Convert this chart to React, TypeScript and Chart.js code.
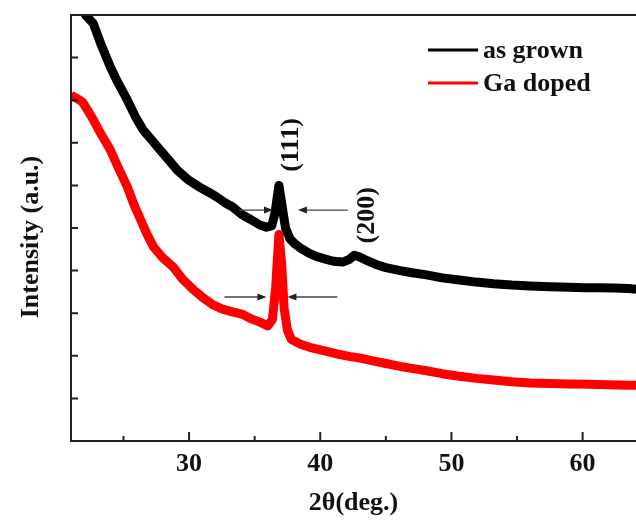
import { useEffect, useRef } from "react";
import { Chart, registerables } from "chart.js";

Chart.register(...registerables);

const FONT = '"Liberation Serif", "Times New Roman", serif';

const seriesLabels = ["as grown", "Ga doped"];
const seriesColors = ["#000000", "#ff0000"];

const asGrownX = [21.0, 21.6, 22.1, 22.7, 23.3, 24.0, 24.6, 25.3, 25.9, 26.5, 27.2, 27.8, 28.5, 29.1, 29.9, 30.8, 31.5, 32.1, 32.7, 33.3, 34.0, 34.7, 35.4, 35.9, 36.3, 36.55, 36.85, 37.1, 37.35, 37.7, 38.1, 38.5, 39.2, 39.8, 40.4, 41.0, 41.7, 42.2, 42.6, 43.0, 43.4, 44.2, 45.0, 46.1, 47.0, 48.1, 49.3, 50.6, 51.9, 53.2, 54.6, 56.0, 57.5, 59.0, 60.2, 61.3, 62.4, 63.5, 64.1];
const asGrownY = [11.2, 10.6, 10.0, 9.8, 9.3, 8.78, 8.4, 8.0, 7.62, 7.3, 7.05, 6.83, 6.58, 6.36, 6.14, 5.96, 5.84, 5.73, 5.6, 5.5, 5.32, 5.2, 5.07, 5.02, 5.05, 5.35, 6.0, 5.5, 5.0, 4.74, 4.62, 4.53, 4.4, 4.32, 4.27, 4.22, 4.2, 4.26, 4.36, 4.32, 4.26, 4.15, 4.07, 4.0, 3.95, 3.9, 3.83, 3.78, 3.73, 3.69, 3.66, 3.64, 3.62, 3.61, 3.6, 3.6, 3.59, 3.58, 3.56];

const gaDopedX = [21.0, 21.4, 21.9, 22.3, 22.7, 23.3, 24.0, 24.6, 25.3, 25.8, 26.3, 26.8, 27.3, 28.0, 28.8, 29.5, 30.3, 31.0, 31.8, 32.5, 33.3, 34.1, 34.8, 35.4, 36.0, 36.35, 36.6, 36.85, 37.05, 37.25, 37.5, 37.8, 38.5, 39.2, 40.0, 40.8, 41.5, 42.3, 43.0, 44.0, 45.0, 46.1, 47.1, 48.1, 49.3, 50.6, 51.9, 53.2, 54.6, 56.0, 57.5, 59.0, 60.5, 62.0, 63.5, 64.1];
const gaDopedY = [8.12, 8.05, 7.95, 7.75, 7.54, 7.2, 6.83, 6.42, 5.96, 5.55, 5.2, 4.85, 4.55, 4.3, 4.08, 3.8, 3.56, 3.38, 3.2, 3.1, 3.03, 2.97, 2.86, 2.79, 2.7, 2.85, 3.6, 4.85, 4.2, 3.1, 2.6, 2.38, 2.27, 2.2, 2.14, 2.08, 2.03, 1.98, 1.95, 1.88, 1.82, 1.75, 1.7, 1.65, 1.58, 1.52, 1.47, 1.43, 1.39, 1.36, 1.35, 1.34, 1.33, 1.32, 1.31, 1.31];

const xMin = 21;
const xMax = 64.07;
const yMin = 0;
const yMax = 10;

const peakLabels = ["(111)", "(200)"];
const peakLabelX = [37.8, 43.6];
const peakLabelY = [6.95, 5.3];

const arrowFromX = [33.8, 42.1, 32.7, 41.3];
const arrowToX = [36.4, 38.3, 35.9, 37.5];
const arrowY = [5.42, 5.42, 3.38, 3.38];

const xTitle = "2θ(deg.)";
const yTitle = "Intensity (a.u.)";

const decorPlugin = {
  id: "decor",
  afterDraw(chart: any) {
    const { ctx, chartArea, scales } = chart;
    const xs = scales.x;
    const ys = scales.y;
    const { left, right, top, bottom } = chartArea;
    ctx.save();

    // frame (left, bottom, top)
    ctx.strokeStyle = "#222";
    ctx.lineWidth = 2;
    ctx.beginPath();
    ctx.moveTo(right + 2, top);
    ctx.lineTo(left, top);
    ctx.lineTo(left, bottom);
    ctx.lineTo(right + 2, bottom);
    ctx.stroke();

    // inward ticks
    ctx.lineWidth = 2;
    ctx.beginPath();
    xs.ticks.forEach((t: any) => {
      const px = xs.getPixelForValue(t.value);
      const len = t.value % 10 === 0 ? 9 : 5;
      ctx.moveTo(px, bottom);
      ctx.lineTo(px, bottom - len);
    });
    ys.ticks.forEach((t: any) => {
      if (t.value <= yMin || t.value >= yMax) return;
      const py = ys.getPixelForValue(t.value);
      ctx.moveTo(left, py);
      ctx.lineTo(left + 7, py);
    });
    ctx.stroke();

    // arrows
    ctx.strokeStyle = "#444";
    ctx.fillStyle = "#222";
    ctx.lineWidth = 1.3;
    for (let i = 0; i < arrowY.length; i++) {
      const x1 = xs.getPixelForValue(arrowFromX[i]);
      const x2 = xs.getPixelForValue(arrowToX[i]);
      const py = ys.getPixelForValue(arrowY[i]);
      const dir = x2 > x1 ? 1 : -1;
      ctx.beginPath();
      ctx.moveTo(x1, py);
      ctx.lineTo(x2 - dir * 6, py);
      ctx.stroke();
      ctx.beginPath();
      ctx.moveTo(x2, py);
      ctx.lineTo(x2 - dir * 9, py - 3.5);
      ctx.lineTo(x2 - dir * 9, py + 3.5);
      ctx.closePath();
      ctx.fill();
    }

    // peak labels (rotated)
    ctx.fillStyle = "#111";
    ctx.font = `bold 26px ${FONT}`;
    ctx.textAlign = "center";
    ctx.textBaseline = "middle";
    for (let i = 0; i < peakLabels.length; i++) {
      const px = xs.getPixelForValue(peakLabelX[i]);
      const py = ys.getPixelForValue(peakLabelY[i]);
      ctx.save();
      ctx.translate(px, py);
      ctx.rotate(-Math.PI / 2);
      ctx.fillText(peakLabels[i], 0, 0);
      ctx.restore();
    }

    // y title
    ctx.save();
    ctx.translate(31, 237);
    ctx.rotate(-Math.PI / 2);
    ctx.fillText(yTitle, 0, 0);
    ctx.restore();

    // legend
    const ds = chart.data.datasets;
    const legX1 = 428;
    const legX2 = 478;
    const legLineY = [50, 83];
    const legTextY = [58, 91];
    ctx.textAlign = "left";
    ctx.textBaseline = "alphabetic";
    ds.forEach((d: any, i: number) => {
      ctx.strokeStyle = d.borderColor;
      ctx.lineWidth = 3;
      ctx.beginPath();
      ctx.moveTo(legX1, legLineY[i]);
      ctx.lineTo(legX2, legLineY[i]);
      ctx.stroke();
      ctx.fillStyle = "#111";
      ctx.fillText(d.label, 483, legTextY[i]);
    });

    ctx.restore();
  },
};

export default function App() {
  const ref = useRef<HTMLCanvasElement | null>(null);
  useEffect(() => {
    if (!ref.current) return;
    const chart = new Chart(ref.current, {
      type: "scatter",
      data: {
        datasets: [
          {
            label: seriesLabels[0],
            data: asGrownX.map((x, i) => ({ x, y: asGrownY[i] })),
            borderColor: seriesColors[0],
            backgroundColor: seriesColors[0],
            showLine: true,
            pointRadius: 0,
            borderWidth: 9,
            borderJoinStyle: "round",
          },
          {
            label: seriesLabels[1],
            data: gaDopedX.map((x, i) => ({ x, y: gaDopedY[i] })),
            borderColor: seriesColors[1],
            backgroundColor: seriesColors[1],
            showLine: true,
            pointRadius: 0,
            borderWidth: 9,
            borderJoinStyle: "round",
          },
        ],
      },
      options: {
        animation: false,
        responsive: true,
        maintainAspectRatio: false,
        layout: { padding: { top: 15, right: 0, bottom: 0, left: 0 } },
        plugins: {
          legend: { display: false },
          tooltip: { enabled: false },
        },
        scales: {
          x: {
            type: "linear",
            min: xMin,
            max: xMax,
            grid: { display: false, drawTicks: false },
            border: { display: false },
            ticks: {
              stepSize: 5,
              includeBounds: false,
              autoSkip: false,
              maxRotation: 0,
              padding: 8,
              color: "#111",
              font: { family: FONT, size: 26, weight: "bold" },
              callback: (v: any) => (Number(v) % 10 === 0 ? String(v) : ""),
            },
            title: {
              display: true,
              text: xTitle,
              color: "#111",
              font: { family: FONT, size: 26, weight: "bold" },
              padding: { top: 0, bottom: 1 },
            },
            afterFit: (s: any) => {
              s.height = 79;
            },
          },
          y: {
            type: "linear",
            min: yMin,
            max: yMax,
            grid: { display: false, drawTicks: false },
            border: { display: false },
            ticks: { display: false, stepSize: 1 },
            afterFit: (s: any) => {
              s.width = 71;
            },
          },
        },
      },
      plugins: [decorPlugin],
    });
    return () => chart.destroy();
  }, []);
  return (
    <div style={{ position: "absolute", left: 0, top: 0, width: 636, height: 520, background: "#fff" }}>
      <canvas ref={ref} />
    </div>
  );
}
